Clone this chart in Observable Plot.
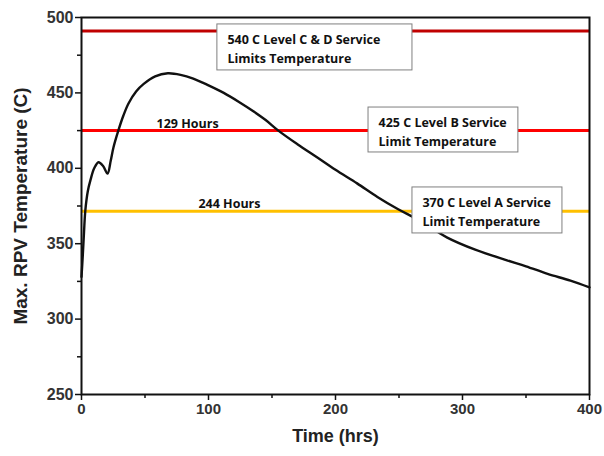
<!DOCTYPE html>
<html>
<head>
<meta charset="utf-8">
<script src="https://cdn.jsdelivr.net/npm/d3@7"></script>
<script src="https://cdn.jsdelivr.net/npm/@observablehq/plot@0.6"></script>
<style>
  html, body { margin: 0; padding: 0; background: #fff; }
  #chart { width: 604px; height: 456px; }
</style>
</head>
<body>
<div id="chart"></div>
<script>
// ---- data ----
const timeHrs = [0, 1, 2, 3, 5, 7, 10, 13.4, 17, 20.5, 23, 25.2, 29, 33, 37, 43, 49, 58, 68, 78, 88, 100, 112, 124, 135, 145, 155, 170, 186, 200, 217, 233, 249, 265, 288, 310, 335, 350, 367, 385, 400];
const tempC   = [328, 342, 358, 372, 385, 392, 400, 404, 401.5, 396.5, 405, 414, 425, 435, 443, 451, 456, 461, 463, 462, 459.5, 455, 450, 444, 438, 432, 425, 416, 407, 399, 390, 381, 373, 366, 354, 346, 339, 335, 330, 325.5, 321];

const limitTemps  = [491, 425, 371.5];
const limitColors = ["#c00000", "#ff0000", "#ffc000"];

const hourLabels = ["129 Hours", "244 Hours"];
const hourLabelX = [83.5, 116.5];
const hourLabelY = [425, 371.5];

const boxLabels = ["540 C Level C & D Service\nLimits Temperature", "425 C Level B Service\nLimit Temperature", "370 C Level A Service\nLimit Temperature"];
const boxX1 = [107, 226, 260.6];
const boxX2 = [260.6, 344, 378.7];
const boxY1 = [464.9, 410.5, 356.8];
const boxY2 = [495.4, 440.3, 387.3];

const yTicks = [250, 300, 350, 400, 450, 500];
const yMinor = [275, 325, 375, 425, 475];
const xTicks = [0, 100, 200, 300, 400];
const xMinor = [50, 150, 250, 350];

// ---- build tables ----
const curve = timeHrs.map((t, i) => ({t, v: tempC[i]}));
const limits = limitTemps.map((v, i) => ({v, c: limitColors[i]}));
const hours = hourLabels.map((s, i) => ({s, x: hourLabelX[i], y: hourLabelY[i]}));
const boxes = boxLabels.map((s, i) => ({s, x1: boxX1[i], x2: boxX2[i], y1: boxY1[i], y2: boxY2[i]}));

const axisFont = "'Liberation Sans', Arial, sans-serif";
const boxFont = "'Open Sans', Lato, sans-serif";

const chart = Plot.plot({
  width: 604,
  height: 456,
  marginLeft: 81,
  marginRight: 15,
  marginTop: 17,
  marginBottom: 62,
  style: {fontFamily: axisFont, background: "#fff"},
  x: {domain: [0, 400]},
  y: {domain: [250, 500]},
  marks: [
    Plot.ruleY(limits, {y: "v", x1: 0, x2: 400, stroke: "c", strokeWidth: 3}),
    Plot.line(curve, {x: "t", y: "v", stroke: "#111", strokeWidth: 2.4, curve: "catmull-rom"}),
    Plot.rect(boxes, {x1: "x1", x2: "x2", y1: "y1", y2: "y2", fill: "#fff", stroke: "#7f7f7f", strokeWidth: 1}),
    Plot.text(boxes, {x: "x1", y: d => (d.y1 + d.y2) / 2, text: "s", textAnchor: "start", dx: 10, lineHeight: 1.55, fontFamily: boxFont, fontWeight: "bold", fontSize: 12.5, fill: "#111"}),
    Plot.text(hours, {x: "x", y: "y", text: "s", lineAnchor: "bottom", dy: -3, fontFamily: boxFont, fontWeight: "bold", fontSize: 12.5, fill: "#111"}),
    Plot.frame({stroke: "#111", strokeWidth: 2}),
    Plot.axisY({ticks: yTicks, tickSize: 6, tickPadding: 2, tickFormat: d => d, fontSize: 16, fontWeight: "bold", fill: "#333", stroke: "#111", strokeWidth: 1.5, label: null}),
    Plot.axisY({ticks: yMinor, tickSize: 4, text: null, stroke: "#111", strokeWidth: 1.5, label: null}),
    Plot.axisX({ticks: xTicks, tickSize: 6, tickPadding: 3, tickFormat: d => d, fontSize: 15, fontWeight: "bold", fill: "#333", stroke: "#111", strokeWidth: 1.5, label: null}),
    Plot.axisX({ticks: xMinor, tickSize: 4, text: null, stroke: "#111", strokeWidth: 1.5, label: null}),
    Plot.text(["Time (hrs)"], {frameAnchor: "bottom", dy: 47, text: d => d, fontSize: 18, fontWeight: "bold", fill: "#222"}),
    Plot.text(["Max. RPV Temperature (C)"], {frameAnchor: "left", textAnchor: "middle", dx: -61, rotate: -90, text: d => d, fontSize: 19, fontWeight: "bold", fill: "#222"})
  ]
});
document.getElementById("chart").appendChild(chart);
</script>
</body>
</html>
